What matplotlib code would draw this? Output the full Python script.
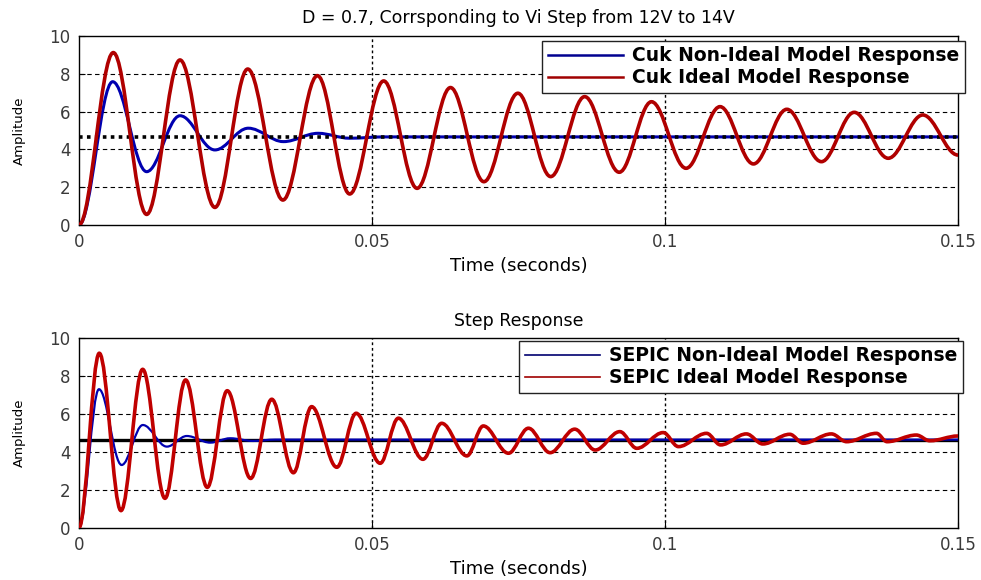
import matplotlib
matplotlib.use("Agg")
import matplotlib.pyplot as plt
from matplotlib.path import Path
from matplotlib.patches import PathPatch
from matplotlib.lines import Line2D

# -------------------------
# Data (turning points of each response)
# -------------------------

t_cuk_ideal = [0, 0.00586, 0.01155, 0.01724, 0.0232, 0.0288, 0.0348, 0.0407,
               0.0462, 0.0520, 0.0577, 0.0634, 0.0691, 0.0749, 0.0805, 0.0863,
               0.0922, 0.0977, 0.1036, 0.1094, 0.1151, 0.1208, 0.1267, 0.1323,
               0.1381, 0.1440, 0.1500]
y_cuk_ideal = [0, 9.12, 0.56, 8.73, 0.93, 8.25, 1.32, 7.90,
               1.64, 7.62, 1.94, 7.27, 2.29, 6.97, 2.56, 6.79,
               2.79, 6.52, 3.00, 6.26, 3.23, 6.12, 3.35, 5.96,
               3.53, 5.82, 3.70]

t_cuk_nonideal = [0, 0.00575, 0.01155, 0.01724, 0.0232, 0.0289, 0.0349,
                  0.0408, 0.0462, 0.0520, 0.1500]
y_cuk_nonideal = [0, 7.58, 2.82, 5.78, 3.97, 5.12, 4.41,
                  4.85, 4.59, 4.66, 4.66]

t_sepic_ideal = [0, 0.00347, 0.00717, 0.01087, 0.01468, 0.0182, 0.0219, 0.0253,
                 0.0293, 0.0329, 0.0366, 0.0397, 0.0440, 0.0473, 0.0514, 0.0545,
                 0.0587, 0.0619, 0.0662, 0.0690, 0.0733, 0.0767, 0.0804, 0.0846,
                 0.0881, 0.0923, 0.0952, 0.0997, 0.1023, 0.1071, 0.1095, 0.1139,
                 0.1167, 0.1213, 0.1236, 0.1284, 0.1310, 0.1361, 0.1379, 0.1429,
                 0.1452, 0.1500]
y_sepic_ideal = [0, 9.21, 0.90, 8.36, 1.55, 7.80, 2.13, 7.23,
                 2.60, 6.78, 2.90, 6.39, 3.19, 6.04, 3.40, 5.78,
                 3.61, 5.51, 3.79, 5.37, 3.93, 5.25, 3.96, 5.20,
                 4.10, 5.07, 4.19, 5.02, 4.28, 4.98, 4.37, 4.95,
                 4.42, 4.93, 4.46, 4.95, 4.54, 4.98, 4.54, 4.89,
                 4.59, 4.84]

t_sepic_nonideal = [0, 0.00341, 0.00728, 0.0109, 0.0150, 0.0184, 0.0224,
                    0.0258, 0.0297, 0.0335, 0.1500]
y_sepic_nonideal = [0, 7.31, 3.31, 5.42, 4.28, 4.84, 4.49,
                    4.72, 4.58, 4.65, 4.65]

cuk_final = 4.66
sepic_final = 4.64

x_ticks = [0, 0.05, 0.1, 0.15]
x_ticklabels = ["0", "0.05", "0.1", "0.15"]
y_ticks = [0, 2, 4, 6, 8, 10]

top_title = "D = 0.7, Corrsponding to Vi Step from 12V to 14V"
bottom_title = "Step Response"
cuk_labels = ["Cuk Non-Ideal Model Response", "Cuk Ideal Model Response"]
sepic_labels = ["SEPIC Non-Ideal Model Response", "SEPIC Ideal Model Response"]


def smooth_line(ax, t, y, color, lw, z):
    # smooth curve through the turning points (flat tangent at each one)
    verts = [(t[0], y[0])]
    codes = [Path.MOVETO]
    for i in range(1, len(t)):
        dt = t[i] - t[i - 1]
        verts += [(t[i - 1] + 0.36 * dt, y[i - 1]),
                  (t[i] - 0.36 * dt, y[i]),
                  (t[i], y[i])]
        codes += [Path.CURVE4] * 3
    patch = PathPatch(Path(verts, codes), fill=False, edgecolor=color,
                      lw=lw, zorder=z, joinstyle="round", capstyle="round")
    ax.add_patch(patch)


def style_axes(ax, title):
    ax.set_xlim(0, 0.15)
    ax.set_ylim(0, 10)
    ax.set_xticks(x_ticks)
    ax.set_xticklabels(x_ticklabels)
    ax.set_yticks(y_ticks)
    ax.tick_params(direction="in", length=4, labelsize=12,
                   labelcolor="#3a3a3a", pad=6)
    for s in ax.spines.values():
        s.set_linewidth(1.0)
    for v in [2, 4, 6, 8]:
        ax.axhline(v, color="black", lw=0.8, ls=(0, (4, 3)), zorder=1)
    for v in [0.05, 0.1]:
        ax.axvline(v, color="black", lw=1.0, ls=(0, (2, 2)), zorder=1)
    ax.set_title(title, fontsize=12.5, pad=9)
    ax.set_xlabel("Time (seconds)", fontsize=13, labelpad=4)
    ax.set_ylabel("Amplitude", fontsize=9.5, labelpad=17)


def add_legend(ax, labels, colors, lw, anchor):
    handles = [Line2D([], [], color=c, lw=lw) for c in colors]
    leg = ax.legend(handles, labels, loc="upper right", bbox_to_anchor=anchor,
                    borderaxespad=0, fancybox=False, edgecolor="#222222",
                    framealpha=1, prop={"size": 13.5, "weight": "bold"},
                    handlelength=4.0, handletextpad=0.5, labelspacing=0.15,
                    borderpad=0.3)
    leg.get_frame().set_linewidth(1.0)
    leg.set_zorder(10)


fig = plt.figure(figsize=(9.81, 5.8), dpi=100)

# -------------------------
# Top: Cuk
# -------------------------

ax1 = fig.add_axes([0.0805, 0.6121, 0.8960, 0.3259])
style_axes(ax1, top_title)
smooth_line(ax1, t_cuk_nonideal, y_cuk_nonideal, "#0000b0", 2.2, 3)
ax1.axhline(cuk_final, color="black", lw=2.6, ls=(0, (1, 1.2)), zorder=4)
smooth_line(ax1, t_cuk_ideal, y_cuk_ideal, "#b00000", 2.6, 5)
add_legend(ax1, cuk_labels, ["#000090", "#a00000"], 1.8, (1.008, 0.974))

# -------------------------
# Bottom: SEPIC
# -------------------------

ax2 = fig.add_axes([0.0805, 0.0902, 0.8960, 0.3266])
style_axes(ax2, bottom_title)
ax2.axhline(sepic_final, color="black", lw=2.4, zorder=3)
smooth_line(ax2, t_sepic_nonideal, y_sepic_nonideal, "#0000b0", 1.6, 4)
smooth_line(ax2, t_sepic_ideal, y_sepic_ideal, "#c00000", 2.6, 5)
add_legend(ax2, sepic_labels, ["#000070", "#a00000"], 1.2, (1.006, 0.987))

fig.savefig("out.png", dpi=100)
